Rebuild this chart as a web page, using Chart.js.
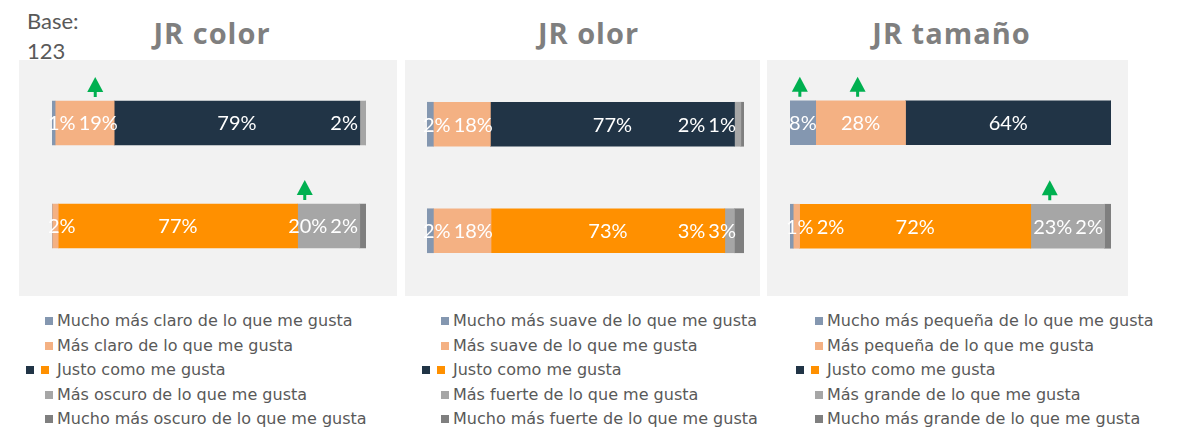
<!DOCTYPE html>
<html lang="es">
<head>
<meta charset="utf-8">
<script src="https://cdn.jsdelivr.net/npm/chart.js@4.4.1/dist/chart.umd.min.js"></script>
<style>
  body { margin: 0; background: #fff; }
  #lienzo { position: relative; width: 1185px; height: 432px; overflow: hidden; }
  .panel { position: absolute; top: 60px; height: 236px; background: #f2f2f2; }
  .titulo { position: absolute; top: 18px; font: bold 29px "Open Sans"; letter-spacing: 1px; color: #7f7f7f; text-align: center; line-height: 29px; }
  .base { position: absolute; left: 27px; top: 6px; font: 22px Lato; line-height: 30px; color: #595959; }
  .leyenda { position: absolute; top: 309px; font: 16px "DejaVu Sans"; color: #595959; }
  .fila { position: relative; height: 24.5px; line-height: 24.5px; white-space: nowrap; }
  .cuadro { position: absolute; top: 8px; width: 8px; height: 8px; }
</style>
</head>
<body>
<div id="lienzo">
  <div class="base">Base:<br>123</div>
</div>
<script>
// valores por panel: [fila superior, fila inferior]
// orden: mucho menos, menos, justo, más, mucho más
const colorArriba = [1, 19, 79, 2, 0];
const colorAbajo = [0, 2, 77, 20, 2];
const olorArriba = [2, 18, 77, 2, 1];
const olorAbajo = [2, 18, 73, 3, 3];
const tamanoArriba = [8, 28, 64, 0, 0];
const tamanoAbajo = [1, 2, 72, 23, 2];

// flechas verdes (diferencia significativa)
const colorFlechasArriba = [0, 1, 0, 0, 0];
const colorFlechasAbajo = [0, 0, 0, 1, 0];
const olorFlechasArriba = [0, 0, 0, 0, 0];
const olorFlechasAbajo = [0, 0, 0, 0, 0];
const tamanoFlechasArriba = [1, 1, 0, 0, 0];
const tamanoFlechasAbajo = [0, 0, 0, 1, 0];

const titulos = ["JR color", "JR olor", "JR tamaño"];

const leyendaColor = [
  "Mucho más claro de lo que me gusta",
  "Más claro de lo que me gusta",
  "Justo como me gusta",
  "Más oscuro de lo que me gusta",
  "Mucho más oscuro de lo que me gusta",
];
const leyendaOlor = [
  "Mucho más suave de lo que me gusta",
  "Más suave de lo que me gusta",
  "Justo como me gusta",
  "Más fuerte de lo que me gusta",
  "Mucho más fuerte de lo que me gusta",
];
const leyendaTamano = [
  "Mucho más pequeña de lo que me gusta",
  "Más pequeña de lo que me gusta",
  "Justo como me gusta",
  "Más grande de lo que me gusta",
  "Mucho más grande de lo que me gusta",
];

const colores = ["#8497b0", "#f4b183", ["#213446", "#ff9000"], "#a6a6a6", "#7f7f7f"];

const paneles = [
  {
    x: 19, ancho: 378, arriba: colorArriba, abajo: colorAbajo,
    flechas: [colorFlechasArriba, colorFlechasAbajo], leyenda: leyendaColor,
    padding: { left: 33, right: 31, top: 11.5, bottom: 18.5 }, textoX: 57, tituloX: 4,
  },
  {
    x: 405, ancho: 355, arriba: olorArriba, abajo: olorAbajo,
    flechas: [olorFlechasArriba, olorFlechasAbajo], leyenda: leyendaOlor,
    padding: { left: 22, right: 16, top: 11, bottom: 12 }, textoX: 453, tituloX: 6,
  },
  {
    x: 767, ancho: 361, arriba: tamanoArriba, abajo: tamanoAbajo,
    flechas: [tamanoFlechasArriba, tamanoFlechasAbajo], leyenda: leyendaTamano,
    padding: { left: 23, right: 17, top: 11, bottom: 18 }, textoX: 827, tituloX: 4,
  },
];

function dibujarFlecha(ctx, x, abajo) {
  ctx.fillStyle = "#00b050";
  ctx.beginPath();
  ctx.moveTo(x, abajo - 20);
  ctx.lineTo(x + 8, abajo - 5);
  ctx.lineTo(x - 8, abajo - 5);
  ctx.closePath();
  ctx.fill();
  ctx.fillRect(x - 1.5, abajo - 6, 3, 6);
}

// etiquetas de porcentaje y flechas sobre cada segmento
const etiquetasPlugin = {
  id: "etiquetas",
  afterDatasetsDraw(chart, args, opts) {
    const ctx = chart.ctx;
    ctx.save();
    ctx.font = "20px Lato";
    ctx.textAlign = "center";
    ctx.textBaseline = "middle";

    opts.filas.forEach((fila, i) => {
      const items = [];
      fila.forEach((valor, d) => {
        if (!valor) return;
        const barra = chart.getDatasetMeta(d).data[i];
        const texto = valor + "%";
        const w = ctx.measureText(texto).width;
        items.push({ texto, w, cx: (barra.base + barra.x) / 2, barra, d });
      });

      const inicio = Math.min(...items.map((it) => it.barra.base));
      const fin = Math.max(...items.map((it) => it.barra.x));
      const limitar = (it) => {
        it.cx = Math.max(it.cx, inicio - 4 + it.w / 2);
        it.cx = Math.min(it.cx, fin - 8 - it.w / 2);
      };
      items.forEach(limitar);
      for (let k = 1; k < items.length; k++) {
        const minimo = items[k - 1].cx + items[k - 1].w / 2 + 3 + items[k].w / 2;
        if (items[k].cx < minimo) items[k].cx = minimo;
      }
      items.forEach(limitar);
      for (let k = items.length - 2; k >= 0; k--) {
        const maximo = items[k + 1].cx - items[k + 1].w / 2 - 3 - items[k].w / 2;
        if (items[k].cx > maximo) items[k].cx = maximo;
      }

      items.forEach((it) => {
        ctx.fillStyle = "#ffffff";
        ctx.fillText(it.texto, it.cx, it.barra.y + 1);
        if (opts.flechas[i][it.d]) {
          dibujarFlecha(ctx, it.cx - 3, it.barra.y - it.barra.height / 2 - 4);
        }
      });
    });
    ctx.restore();
  },
};

function crearPanel(panel, n) {
  const lienzo = document.getElementById("lienzo");

  const titulo = document.createElement("div");
  titulo.className = "titulo";
  titulo.style.left = panel.x + panel.tituloX + "px";
  titulo.style.width = panel.ancho + "px";
  titulo.textContent = titulos[n];
  lienzo.appendChild(titulo);

  const caja = document.createElement("div");
  caja.className = "panel";
  caja.style.left = panel.x + "px";
  caja.style.width = panel.ancho + "px";
  const canvas = document.createElement("canvas");
  canvas.width = panel.ancho;
  canvas.height = 236;
  caja.appendChild(canvas);
  lienzo.appendChild(caja);

  const totalArriba = panel.arriba.reduce((a, b) => a + b, 0);
  const totalAbajo = panel.abajo.reduce((a, b) => a + b, 0);

  const datasets = panel.leyenda.map((nombre, d) => ({
    label: nombre,
    data: [
      (panel.arriba[d] * 100) / totalArriba,
      (panel.abajo[d] * 100) / totalAbajo,
    ],
    backgroundColor: colores[d],
    borderWidth: 0,
    barThickness: 44,
  }));

  new Chart(canvas, {
    type: "bar",
    data: { labels: ["arriba", "abajo"], datasets: datasets },
    options: {
      indexAxis: "y",
      responsive: false,
      animation: false,
      layout: { padding: panel.padding },
      scales: {
        x: { stacked: true, min: 0, max: 100, display: false },
        y: { stacked: true, display: false },
      },
      plugins: {
        legend: { display: false },
        tooltip: { enabled: false },
        etiquetas: { filas: [panel.arriba, panel.abajo], flechas: panel.flechas },
      },
    },
    plugins: [etiquetasPlugin],
  });

  // leyenda con texto real
  const leyenda = document.createElement("div");
  leyenda.className = "leyenda";
  leyenda.style.left = panel.textoX + "px";
  panel.leyenda.forEach((nombre, d) => {
    const fila = document.createElement("div");
    fila.className = "fila";
    const tonos = Array.isArray(colores[d]) ? colores[d] : [colores[d]];
    tonos.forEach((tono, t) => {
      const cuadro = document.createElement("span");
      cuadro.className = "cuadro";
      cuadro.style.background = tono;
      cuadro.style.left = (tonos.length > 1 ? -31 + t * 15 : -12) + "px";
      fila.appendChild(cuadro);
    });
    fila.appendChild(document.createTextNode(nombre));
    leyenda.appendChild(fila);
  });
  lienzo.appendChild(leyenda);
}

paneles.forEach((panel, n) => crearPanel(panel, n));
</script>
</body>
</html>
